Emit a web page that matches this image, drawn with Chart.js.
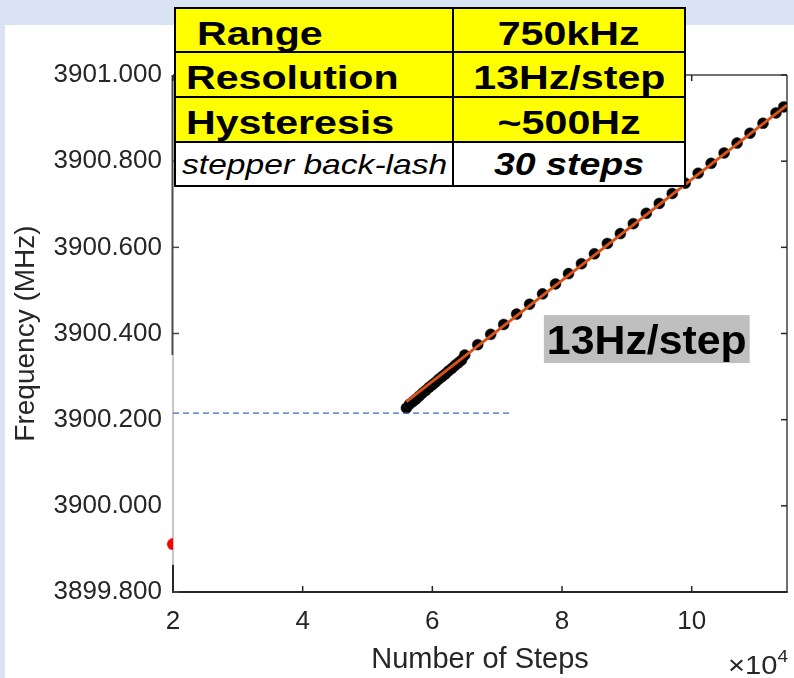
<!DOCTYPE html>
<html>
<head>
<meta charset="utf-8">
<title>Frequency vs Number of Steps</title>
<script src="https://cdn.jsdelivr.net/npm/chart.js@4.4.1/dist/chart.umd.min.js"></script>
<style>
  html, body { margin: 0; padding: 0; }
  body {
    width: 794px; height: 678px; position: relative; overflow: hidden;
    background: #dae3f3;
    font-family: "Liberation Sans", Arial, sans-serif;
  }
  #panel { position: absolute; left: 5px; top: 25px; right: 0; bottom: 0; background: #fff; }
  #wrap { position: absolute; left: 0; top: 0; width: 794px; height: 678px; }
  #specs {
    position: absolute; left: 174px; top: 7px; width: 512px; height: 180px;
    box-sizing: border-box; border: 2px solid #000; background: #000;
    display: grid; gap: 2px;
    grid-template-columns: 276px 230px;
    grid-template-rows: 42px 43px 43px 42px;
  }
  #specs .cell { background: #ffff00; display: flex; align-items: center; white-space: nowrap; color: #000; }
  #specs .cell.plain { background: #fff; }
  #specs .key { justify-content: flex-start; padding-left: 10px; }
  #specs .val { justify-content: center; }
  #specs span { display: inline-block; font: bold 34px "Liberation Sans", Arial, sans-serif; }
  #specs .key span { transform-origin: left center; transform: translateY(2.5px) scaleX(1.21); }
  #specs .val span { transform-origin: center center; transform: translateY(2.5px) scaleX(1.21); }
  #specs .key.indent { padding-left: 21px; }
  #specs .key.note { padding-left: 6px; }
  #specs .key.note span { font: italic 28px "Liberation Sans", Arial, sans-serif; transform: translateY(1px) scaleX(1.2); }
  #specs .val.note span { font: bold italic 31px "Liberation Sans", Arial, sans-serif; transform: translateY(1px) scaleX(1.21); }
</style>
</head>
<body>
<div id="panel"></div>
<div id="wrap"><canvas id="chart" width="794" height="678"></canvas></div>
<div id="specs">
  <div class="cell key indent"><span>Range</span></div>
  <div class="cell val"><span>750kHz</span></div>
  <div class="cell key"><span>Resolution</span></div>
  <div class="cell val"><span>13Hz/step</span></div>
  <div class="cell key"><span>Hysteresis</span></div>
  <div class="cell val"><span>~500Hz</span></div>
  <div class="cell plain key note"><span>stepper back-lash</span></div>
  <div class="cell plain val note"><span>30 steps</span></div>
</div>
<script>
// axis limits (x in units of 10^4 steps, y in MHz)
const X_MIN = 2, X_MAX = 11.47, X_STEP = 2;
const Y_MIN = 3899.8, Y_MAX = 3901.0, Y_STEP = 0.2;

// measured points
const stepCounts = [
  5.60, 5.65, 5.70, 5.75, 5.80, 5.85, 5.90, 5.95, 6.00, 6.05, 6.10, 6.15,
  6.20, 6.25, 6.30, 6.35, 6.40, 6.45, 6.50, 6.70, 6.90, 7.10, 7.30, 7.50,
  7.70, 7.90, 8.10, 8.30, 8.50, 8.70, 8.90, 9.10, 9.30, 9.50, 9.70, 9.90,
  10.10, 10.30, 10.50, 10.70, 10.90, 11.10, 11.30, 11.42
];
const frequencies = [
  3900.227, 3900.236, 3900.242, 3900.248, 3900.255, 3900.262, 3900.268, 3900.275, 3900.281, 3900.287, 3900.294, 3900.300,
  3900.306, 3900.313, 3900.319, 3900.326, 3900.332, 3900.338, 3900.350, 3900.374, 3900.398, 3900.421, 3900.445, 3900.468,
  3900.492, 3900.515, 3900.539, 3900.562, 3900.585, 3900.609, 3900.632, 3900.655, 3900.679, 3900.702, 3900.725, 3900.749,
  3900.772, 3900.795, 3900.819, 3900.842, 3900.865, 3900.888, 3900.912, 3900.926
];

// linear fit
const fitSteps = [5.60, 11.47];
const fitFreqs = [3900.242, 3900.930];

// reference level at the start of the sweep
const refSteps = [2, 7.23];
const refFreqs = [3900.215, 3900.215];

// starting position marker
const startSteps = [2];
const startFreqs = [3899.911];

// stretch of the left spine drawn faded (MHz)
const SPINE_FADE_FROM = 3900.350;
const SPINE_FADE_TO = 3899.863;

const NOTE_TEXT = '13Hz/step';
const NOTE_X = 7.72;
const NOTE_Y = 3900.387;

const FONT = '"Liberation Sans", Arial, sans-serif';
const INK = '#262626';

function zip(xs, ys) {
  return xs.map((x, i) => ({ x, y: ys[i] }));
}

function halfDot(r, color) {
  const c = document.createElement('canvas');
  c.width = 2 * r;
  c.height = 2 * r;
  const g = c.getContext('2d');
  g.beginPath();
  g.arc(r, r, r, Math.PI / 2, Math.PI * 1.5);
  g.closePath();
  g.fillStyle = color;
  g.fill();
  return c;
}

function seg(ctx, x1, y1, x2, y2, color, w) {
  ctx.beginPath();
  ctx.moveTo(x1, y1);
  ctx.lineTo(x2, y2);
  ctx.strokeStyle = color;
  ctx.lineWidth = w;
  ctx.stroke();
}

// box, inward ticks, text annotation and the x10^4 multiplier
const axisFrame = {
  id: 'axisFrame',
  beforeDatasetsDraw(chart) {
    const { ctx, chartArea: a, scales: { x, y } } = chart;
    const fadeTop = y.getPixelForValue(SPINE_FADE_FROM);
    const fadeBot = y.getPixelForValue(SPINE_FADE_TO);
    const T = 6;
    ctx.save();
    seg(ctx, a.left, a.top, a.right, a.top, '#404040', 1.5);
    seg(ctx, a.right, a.top, a.right, a.bottom, '#404040', 1.5);
    seg(ctx, a.left - 1, a.bottom, a.right + 0.75, a.bottom, INK, 2);
    seg(ctx, a.left - 0.5, a.top, a.left - 0.5, fadeTop, '#4a4a4a', 2);
    seg(ctx, a.left, fadeTop, a.left, fadeBot, '#b5b5b5', 1.5);
    seg(ctx, a.left, fadeBot, a.left, a.bottom, INK, 2);
    x.ticks.forEach(t => {
      const px = x.getPixelForValue(t.value);
      seg(ctx, px, a.bottom, px, a.bottom - T, INK, 1.5);
      seg(ctx, px, a.top, px, a.top + T, INK, 1.5);
    });
    y.ticks.forEach(t => {
      const py = y.getPixelForValue(t.value);
      seg(ctx, a.right, py, a.right - T, py, INK, 1.5);
      if (py < fadeTop || py > fadeBot) seg(ctx, a.left, py, a.left + T, py, '#4a4a4a', 1.5);
    });
    ctx.restore();
  },
  afterDatasetsDraw(chart) {
    const { ctx, scales: { x, y } } = chart;
    const left = x.getPixelForValue(NOTE_X);
    const mid = y.getPixelForValue(NOTE_Y);
    ctx.save();
    ctx.font = 'bold 40px ' + FONT;
    const w = ctx.measureText(NOTE_TEXT).width * 1.07;
    ctx.fillStyle = '#bfbfbf';
    ctx.fillRect(left, mid - 24, w + 6, 48);
    ctx.translate(left + 3, mid + 15);
    ctx.scale(1.07, 1);
    ctx.fillStyle = '#000';
    ctx.textBaseline = 'alphabetic';
    ctx.fillText(NOTE_TEXT, 0, 0);
    ctx.restore();
  },
  afterDraw(chart) {
    const { ctx, chartArea: a } = chart;
    ctx.save();
    ctx.fillStyle = INK;
    ctx.textBaseline = 'alphabetic';
    ctx.font = '26px ' + FONT;
    const base = '\u00d710';
    const w1 = ctx.measureText(base).width * 1.12;
    ctx.font = '17px ' + FONT;
    const w2 = ctx.measureText('4').width * 1.12;
    const x0 = a.right - w1 - w2 + 1;
    ctx.save();
    ctx.translate(x0, a.bottom + 82);
    ctx.scale(1.12, 1);
    ctx.font = '26px ' + FONT;
    ctx.fillText(base, 0, 0);
    ctx.restore();
    ctx.translate(x0 + w1, a.bottom + 70);
    ctx.scale(1.12, 1);
    ctx.font = '17px ' + FONT;
    ctx.fillText('4', 0, 0);
    ctx.restore();
  }
};

new Chart(document.getElementById('chart'), {
  type: 'scatter',
  data: {
    datasets: [
      {
        label: 'fit',
        data: zip(fitSteps, fitFreqs),
        showLine: true,
        borderColor: '#d95319',
        borderWidth: 3,
        pointRadius: 0
      },
      {
        label: 'start level',
        data: zip(refSteps, refFreqs),
        showLine: true,
        borderColor: '#3c68c8',
        borderWidth: 1.2,
        borderDash: [6, 4],
        pointRadius: 0
      },
      {
        label: 'start',
        data: zip(startSteps, startFreqs),
        pointStyle: halfDot(6, '#ff0000'),
        pointRadius: 6,
        clip: false
      },
      {
        label: 'measured',
        data: zip(stepCounts, frequencies),
        pointRadius: 5.5,
        pointBackgroundColor: '#000',
        pointBorderColor: '#1a1a1a',
        pointBorderWidth: 0.5
      }
    ]
  },
  options: {
    responsive: false,
    animation: false,
    events: [],
    layout: { padding: { left: 5, right: 2, top: 75, bottom: 0 } },
    plugins: { legend: { display: false }, tooltip: { enabled: false } },
    scales: {
      x: {
        type: 'linear',
        min: X_MIN,
        max: X_MAX,
        grid: { display: false, drawTicks: false },
        border: { display: false },
        ticks: {
          stepSize: X_STEP,
          includeBounds: false,
          padding: 14,
          color: INK,
          font: { family: FONT, size: 26 },
          maxRotation: 0
        },
        title: {
          display: true,
          text: 'Number of Steps',
          color: INK,
          font: { family: FONT, size: 29 },
          padding: { top: 0, bottom: 1 }
        },
        afterFit: s => { s.height = 86; }
      },
      y: {
        type: 'linear',
        min: Y_MIN,
        max: Y_MAX,
        grid: { display: false, drawTicks: false },
        border: { display: false },
        ticks: {
          stepSize: Y_STEP,
          padding: 11,
          color: INK,
          font: { family: FONT, size: 26 },
          callback: v => Number(v).toFixed(3)
        },
        title: {
          display: true,
          text: 'Frequency (MHz)',
          color: INK,
          font: { family: FONT, size: 28 },
          padding: { top: 4, bottom: 0 }
        },
        afterFit: s => { s.width = 168; }
      }
    }
  },
  plugins: [axisFrame]
});
</script>
</body>
</html>
